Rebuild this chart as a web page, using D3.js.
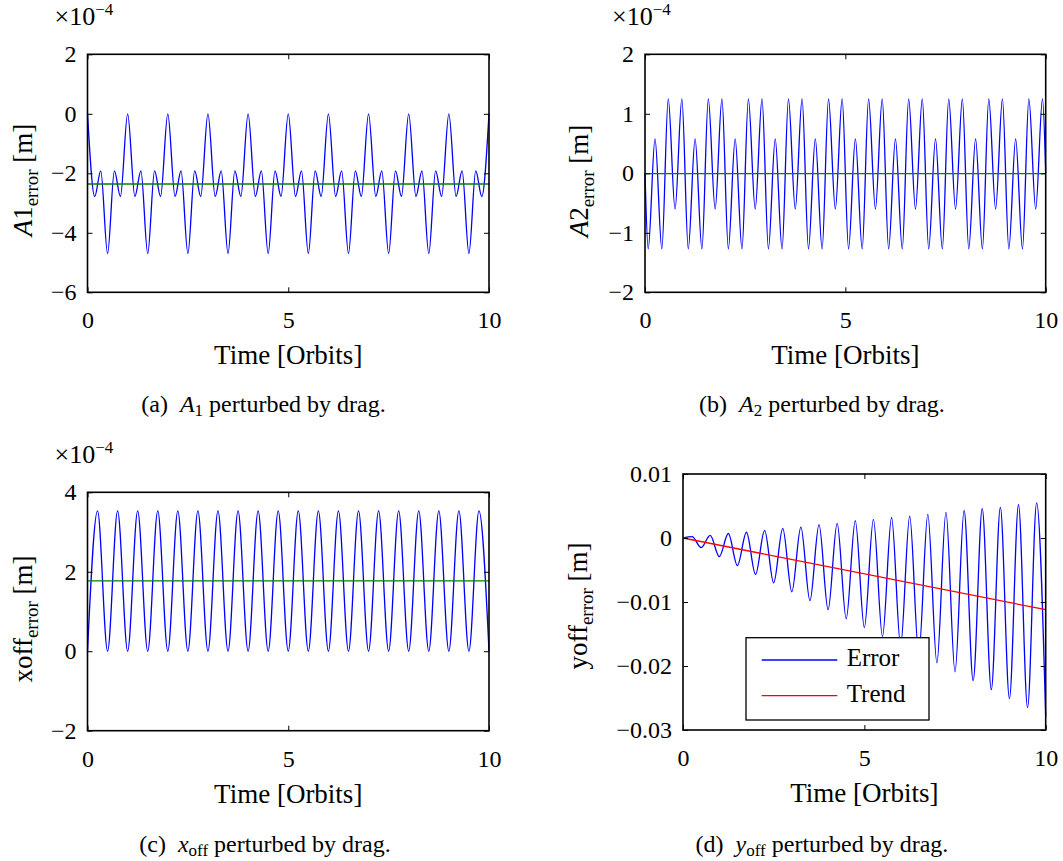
<!DOCTYPE html>
<html>
<head>
<meta charset="utf-8">
<script src="https://cdn.jsdelivr.net/npm/d3@7"></script>
</head>
<body style="margin:0; background:#fff">
<div id="viz"></div>
<script>
var width = 1063,
    height = 861;

var serif = "Liberation Serif";

var timeTicks = [0, 5, 10];

// (a) A1 error, in units of 1e-4 m (extrema)
var a1Error = [
  [0, 0], [0.18, -2.78], [0.33, -1.92], [0.5, -4.7], [0.67, -1.92], [0.82, -2.78],
  [1, 0], [1.18, -2.78], [1.33, -1.92], [1.5, -4.7], [1.67, -1.92], [1.82, -2.78],
  [2, 0], [2.18, -2.78], [2.33, -1.92], [2.5, -4.7], [2.67, -1.92], [2.82, -2.78],
  [3, 0], [3.18, -2.78], [3.33, -1.92], [3.5, -4.7], [3.67, -1.92], [3.82, -2.78],
  [4, 0], [4.18, -2.78], [4.33, -1.92], [4.5, -4.7], [4.67, -1.92], [4.82, -2.78],
  [5, 0], [5.18, -2.78], [5.33, -1.92], [5.5, -4.7], [5.67, -1.92], [5.82, -2.78],
  [6, 0], [6.18, -2.78], [6.33, -1.92], [6.5, -4.7], [6.67, -1.92], [6.82, -2.78],
  [7, 0], [7.18, -2.78], [7.33, -1.92], [7.5, -4.7], [7.67, -1.92], [7.82, -2.78],
  [8, 0], [8.18, -2.78], [8.33, -1.92], [8.5, -4.7], [8.67, -1.92], [8.82, -2.78],
  [9, 0], [9.18, -2.78], [9.33, -1.92], [9.5, -4.7], [9.67, -1.92], [9.82, -2.78],
  [10, 0]
];
var a1Mean = -2.36;
var a1Ticks = [-6, -4, -2, 0, 2];

// (b) A2 error, in units of 1e-4 m
var a2Error = [
  [0, 0],
  [0.08, -1.27], [0.25, 0.58], [0.42, -1.27], [0.58, 1.25], [0.75, -0.6], [0.92, 1.25],
  [1.08, -1.27], [1.25, 0.58], [1.42, -1.27], [1.58, 1.25], [1.75, -0.6], [1.92, 1.25],
  [2.08, -1.27], [2.25, 0.58], [2.42, -1.27], [2.58, 1.25], [2.75, -0.6], [2.92, 1.25],
  [3.08, -1.27], [3.25, 0.58], [3.42, -1.27], [3.58, 1.25], [3.75, -0.6], [3.92, 1.25],
  [4.08, -1.27], [4.25, 0.58], [4.42, -1.27], [4.58, 1.25], [4.75, -0.6], [4.92, 1.25],
  [5.08, -1.27], [5.25, 0.58], [5.42, -1.27], [5.58, 1.25], [5.75, -0.6], [5.92, 1.25],
  [6.08, -1.27], [6.25, 0.58], [6.42, -1.27], [6.58, 1.25], [6.75, -0.6], [6.92, 1.25],
  [7.08, -1.27], [7.25, 0.58], [7.42, -1.27], [7.58, 1.25], [7.75, -0.6], [7.92, 1.25],
  [8.08, -1.27], [8.25, 0.58], [8.42, -1.27], [8.58, 1.25], [8.75, -0.6], [8.92, 1.25],
  [9.08, -1.27], [9.25, 0.58], [9.42, -1.27], [9.58, 1.25], [9.75, -0.6], [9.92, 1.25],
  [10, 0]
];
var a2Mean = -0.005;
var a2Ticks = [-2, -1, 0, 1, 2];

// (c) xoff error, in units of 1e-4 m
var xoffError = [
  [0, 0], [0.25, 3.53], [0.5, 0], [0.75, 3.53], [1, 0], [1.25, 3.53], [1.5, 0], [1.75, 3.53],
  [2, 0], [2.25, 3.53], [2.5, 0], [2.75, 3.53], [3, 0], [3.25, 3.53], [3.5, 0], [3.75, 3.53],
  [4, 0], [4.25, 3.53], [4.5, 0], [4.75, 3.53], [5, 0], [5.25, 3.53], [5.5, 0], [5.75, 3.53],
  [6, 0], [6.25, 3.53], [6.5, 0], [6.75, 3.53], [7, 0], [7.25, 3.53], [7.5, 0], [7.75, 3.53],
  [8, 0], [8.25, 3.53], [8.5, 0], [8.75, 3.53], [9, 0], [9.25, 3.53], [9.5, 0], [9.75, 3.53],
  [10, 0]
];
var xoffMean = 1.77;
var xoffTicks = [-2, 0, 2, 4];

// (d) yoff error and its linear trend, in m
var yoffError = [
  [0, 0], [0.25, 0.0002], [0.5, -0.0015], [0.75, 0.0004], [1, -0.0029], [1.25, 0.0007],
  [1.5, -0.0043], [1.75, 0.0009], [2, -0.0057], [2.25, 0.0012], [2.5, -0.0070], [2.75, 0.0015],
  [3, -0.0084], [3.25, 0.0017], [3.5, -0.0098], [3.75, 0.0021], [4, -0.0112], [4.25, 0.0023],
  [4.5, -0.0126], [4.75, 0.0027], [5, -0.0140], [5.25, 0.0029], [5.5, -0.0154], [5.75, 0.0032],
  [6, -0.0168], [6.25, 0.0034], [6.5, -0.0181], [6.75, 0.0037], [7, -0.0195], [7.25, 0.0040],
  [7.5, -0.0209], [7.75, 0.0043], [8, -0.0223], [8.25, 0.0046], [8.5, -0.0237], [8.75, 0.0048],
  [9, -0.0251], [9.25, 0.0052], [9.5, -0.0265], [9.75, 0.0055], [10, -0.0279]
];
var yoffTrend = [[0, 0], [10, -0.0112]];
var yoffTicks = [-0.03, -0.02, -0.01, 0, 0.01];

var legendNames = ["Error", "Trend"];

var svg = d3.select("#viz").append("svg")
    .attr("width", width)
    .attr("height", height)
    .attr("font-family", serif);

var line = d3.line().curve(d3.curveMonotoneX);

function fmtPlain(d) { return d3.format("d")(d); }
function fmtHund(d) { return d === 0 ? "0" : d3.format(".2f")(d); }

function drawPanel(p) {
  var x = d3.scaleLinear().domain([0, 10]).range([p.x0, p.x1]);
  var y = d3.scaleLinear().domain(d3.extent(p.ticks)).range([p.y1, p.y0]);
  var g = svg.append("g");

  line.x(function(d) { return x(d[0]); }).y(function(d) { return y(d[1]); });

  p.series.forEach(function(s) {
    g.append("path")
        .datum(s.data)
        .attr("fill", "none")
        .attr("stroke", s.color)
        .attr("stroke-width", 1.3)
        .attr("d", line);
  });

  // axes, ticks pointing inside
  g.append("g")
      .attr("transform", "translate(0," + p.y1 + ")")
      .call(d3.axisBottom(x).tickValues(timeTicks).tickSizeInner(-5).tickSizeOuter(0).tickPadding(19));
  g.append("g")
      .attr("transform", "translate(" + p.x0 + ",0)")
      .call(d3.axisLeft(y).tickValues(p.ticks).tickFormat(p.fmt).tickSizeInner(-5).tickSizeOuter(0).tickPadding(11));
  g.append("g")
      .attr("transform", "translate(0," + p.y0 + ")")
      .call(d3.axisTop(x).tickValues(timeTicks).tickFormat("").tickSizeInner(-5).tickSizeOuter(0));
  g.append("g")
      .attr("transform", "translate(" + p.x1 + ",0)")
      .call(d3.axisRight(y).tickValues(p.ticks).tickFormat("").tickSizeInner(-5).tickSizeOuter(0));

  g.selectAll(".domain").remove();
  g.selectAll("g").attr("font-family", serif);
  g.selectAll(".tick line").attr("stroke", "#000").attr("stroke-width", 1);
  g.selectAll(".tick text")
      .attr("font-size", 24)
      .attr("font-family", serif)
      .attr("fill", "#000");

  g.append("rect")
      .attr("x", p.x0).attr("y", p.y0)
      .attr("width", p.x1 - p.x0).attr("height", p.y1 - p.y0)
      .attr("fill", "none").attr("stroke", "#000").attr("stroke-width", 1.6);

  // x label
  g.append("text")
      .attr("x", (p.x0 + p.x1) / 2).attr("y", p.y1 + 72)
      .attr("text-anchor", "middle").attr("font-size", 27)
      .attr("font-family", serif)
      .text("Time [Orbits]");

  // y label
  var yl = g.append("text")
      .attr("transform", "translate(" + (p.x0 - p.labelOff) + "," + p.labelY + ") rotate(-90)")
      .attr("text-anchor", "middle").attr("font-size", 27)
      .attr("font-family", serif);
  p.ylabel.forEach(function(part) {
    var t = yl.append("tspan").text(part.t);
    if (part.it) t.attr("font-style", "italic");
    if (part.sub) t.attr("font-size", 19).attr("dy", 6);
    if (part.up) t.attr("dy", -6);
  });

  // exponent
  if (p.exp) {
    var ex = g.append("text")
        .attr("x", p.x0 - 33).attr("y", p.y0 - 29)
        .attr("font-size", 26)
        .attr("font-family", serif);
    ex.append("tspan").text("×10");
    ex.append("tspan").attr("font-size", 17).attr("dy", -10).text("−4");
  }

  // caption
  var cap = g.append("text")
      .attr("x", p.capX).attr("y", p.capY)
      .attr("text-anchor", "middle").attr("font-size", 24)
      .attr("font-family", serif);
  cap.append("tspan").text(p.cap[0] + "\u00a0 ");
  cap.append("tspan").attr("font-style", "italic").text(p.cap[1]);
  cap.append("tspan").attr("font-size", 17).attr("dy", 4).text(p.cap[2]);
  cap.append("tspan").attr("dy", -4).text(" perturbed by drag.");

  return { x: x, y: y, g: g };
}

drawPanel({
  x0: 87.5, x1: 489, y0: 54.3, y1: 292.3, ticks: a1Ticks, fmt: fmtPlain, exp: true,
  series: [{ data: a1Error, color: "#0000ff" }, { data: [[0, a1Mean], [10, a1Mean]], color: "#008000" }],
  ylabel: [{ t: "A", it: true }, { t: "1" }, { t: "error", sub: true }, { t: "\u00a0[m]", up: true }],
  labelOff: 56, labelY: 180,
  cap: ["(a)", "A", "1"], capX: 263.5, capY: 412
});

drawPanel({
  x0: 645, x1: 1045.7, y0: 54.3, y1: 292.3, ticks: a2Ticks, fmt: fmtPlain, exp: true,
  series: [{ data: a2Error, color: "#0000ff" }, { data: [[0, a2Mean], [10, a2Mean]], color: "#008000" }],
  ylabel: [{ t: "A", it: true }, { t: "2" }, { t: "error", sub: true }, { t: "\u00a0[m]", up: true }],
  labelOff: 57, labelY: 181,
  cap: ["(b)", "A", "2"], capX: 822, capY: 412
});

drawPanel({
  x0: 87.5, x1: 489, y0: 492.3, y1: 730.7, ticks: xoffTicks, fmt: fmtPlain, exp: true,
  series: [{ data: xoffError, color: "#0000ff" }, { data: [[0, xoffMean], [10, xoffMean]], color: "#008000" }],
  ylabel: [{ t: "xoff" }, { t: "error", sub: true }, { t: "\u00a0[m]", up: true }],
  labelOff: 56, labelY: 619,
  cap: ["(c)", "x", "off"], capX: 265, capY: 852
});

var pd = drawPanel({
  x0: 683, x1: 1045.7, y0: 474, y1: 730, ticks: yoffTicks, fmt: fmtHund, exp: false,
  series: [{ data: yoffError, color: "#0000ff" }, { data: yoffTrend, color: "#ff0000" }],
  ylabel: [{ t: "yoff" }, { t: "error", sub: true }, { t: "\u00a0[m]", up: true }],
  labelOff: 96, labelY: 606,
  cap: ["(d)", "y", "off"], capX: 822, capY: 852
});

// legend of panel (d)
var lg = pd.g.append("g").attr("transform", "translate(746,637.7)");
lg.append("rect")
    .attr("width", 183).attr("height", 82.3)
    .attr("fill", "#fff").attr("stroke", "#000").attr("stroke-width", 1.3);
var legendColors = ["#0000ff", "#ff0000"];
legendNames.forEach(function(name, i) {
  var yy = 22.3 + i * 35.7;
  lg.append("line")
      .attr("x1", 15.7).attr("x2", 91.3).attr("y1", yy).attr("y2", yy)
      .attr("stroke", legendColors[i]).attr("stroke-width", 1.3);
  lg.append("text")
      .attr("x", 100.7).attr("y", yy + 6.5)
      .attr("font-size", 25)
      .attr("font-family", serif)
      .text(name);
});
</script>
</body>
</html>
